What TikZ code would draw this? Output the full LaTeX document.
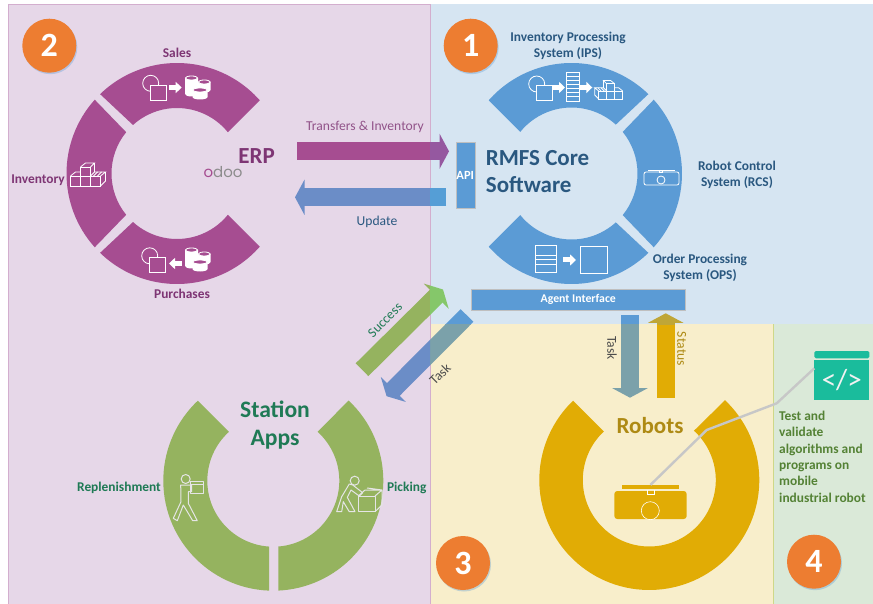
\documentclass[tikz,border=0pt]{standalone}
\usepackage{fontspec}
\setmainfont{Carlito}
\newfontfamily\odoofont{Poppins}
\usetikzlibrary{arrows.meta,positioning,shadows}
\definecolor{erpring}{HTML}{A64D91}
\definecolor{coreblue}{HTML}{5B9BD5}
\definecolor{appgreen}{HTML}{95B35F}
\definecolor{robotgold}{HTML}{E1AC05}
\definecolor{badgeorange}{HTML}{ED7D31}
\definecolor{codeteal}{HTML}{1ABC9C}
\definecolor{erptext}{HTML}{7E3574}
\definecolor{coretext}{HTML}{2A5880}
\definecolor{apptext}{HTML}{1F7A55}
\definecolor{robottext}{HTML}{AE8A14}
\definecolor{testtext}{HTML}{548235}
\definecolor{panelblue}{HTML}{D6E5F2}
\definecolor{panelyellow}{HTML}{F8EECB}
\definecolor{panelgreen}{HTML}{DAE9D8}
\definecolor{panelpink}{HTML}{E6D7E8}
\newcommand{\ringseg}[9]{\fill[#1] (#2,#3) ++(#4:#8) arc[start angle=#4,end angle=#5,radius=#8]
  -- ([shift={(#2,#3)}]#7:#9) arc[start angle=#7,end angle=#6,radius=#9] -- cycle;}
\newcommand{\tintarrow}[4]{\begin{scope}\clip (#1tl) rectangle (#1br);
  \definecolor{tint}{HTML}{#2}\draw[blockarrow,tint] (#3) -- (#4);\end{scope}}

\begin{document}
\begin{tikzpicture}[
      x=1pt,y=1pt,yscale=-1,
      lbl/.style={font=\bfseries\fontsize{13.4}{16}\selectfont,align=center,inner sep=0pt},
      plainlbl/.style={font=\fontsize{13.6}{15}\selectfont,inner sep=0pt},
      title/.style={font=\bfseries\fontsize{23.6}{27.6}\selectfont,align=center,inner sep=0pt},
      badge/.style={circle,fill=badgeorange,text=white,minimum size=54pt,inner sep=0pt,
        font=\bfseries\fontsize{34}{34}\selectfont,
        drop shadow={shadow xshift=1pt,shadow yshift=-1.5pt,fill=coreblue,opacity=.35}},
      blockarrow/.style={line width=18pt,-{Triangle[length=9.5pt,width=35pt]}},
      minarrow/.style={line width=5pt,white,-{Triangle[length=6pt,width=11pt]}},
      iconline/.style={draw=white,line width=.8pt},
      worker/.style={draw=black!10,line width=1pt,line join=round},
      bar/.style={fill=coreblue,draw=black!25,line width=.4pt,text=white,inner sep=0pt},
      flipped/.style={yscale=-1},
      pics/circsq/.style={code={
        \draw[iconline] (.7,-1.7) circle (8);
        \draw[iconline,fill=#1] (0,0) rectangle (16,15);}},
      pics/dbstack/.style={code={
        \foreach \cx/\cy/\ch/\cr in {6.5/2/16/6.5,19.3/6/8/6.3,15/14/7/7.5}{
          \fill[white] (\cx-\cr,\cy) -- (\cx-\cr,\cy+\ch) arc[start angle=180,end angle=0,x radius=\cr,y radius=2.5] -- (\cx+\cr,\cy) -- cycle;
          \draw[iconline,fill=#1] (\cx,\cy) ellipse (\cr-.4 and 2);}}},
      pics/boxes/.style={code={
        \draw[iconline] (0,0) rectangle (10,10) (10,0) rectangle (20,10) (20,0) rectangle (30,10);
        \draw[iconline] (10,0) rectangle (20,-9);
        \draw[iconline] (10,-9) -- (15,-13) -- (24,-13) -- (20,-9) (24,-13) -- (24,-4) -- (20,0);
        \draw[iconline] (0,0) -- (5,-4) -- (10,-4);
        \draw[iconline] (24,-4) -- (35,-4) -- (30,0) (35,-4) -- (35,5) -- (30,10);
        \draw[iconline] (27,-4) -- (23,0) (31,-4) -- (27,0);}}
      ]
    \useasboundingbox (0,0) rectangle (873,604);
    \fill[white] (0,0) rectangle (873,604);

    \coordinate (pinktl) at (8,4);       \coordinate (pinkbr) at (430,604);
    \coordinate (bluetl) at (430,4);     \coordinate (bluebr) at (873,324);
    \coordinate (yellowtl) at (430,324); \coordinate (yellowbr) at (773,604);
    \coordinate (greentl) at (773,324);  \coordinate (greenbr) at (873,604);
    \fill[panelblue] (bluetl) rectangle (bluebr);
    \fill[panelyellow] (yellowtl) rectangle (yellowbr);
    \fill[panelgreen] (greentl) rectangle (greenbr);
    \draw[panelgreen!70!yellow!90!black,line width=1pt] (773,324) -- (773,604);
    \filldraw[fill=panelpink,draw=erpring!30!panelpink] (pinktl) rectangle (pinkbr);

    % ERP
    \ringseg{erpring}{177}{173.5}{-134.1}{-41.5}{-132.2}{-39.1}{110.5}{65.5}
    \ringseg{erpring}{177}{173.5}{138.1}{221.9}{140.9}{219.1}{110.5}{65.5}
    \ringseg{erpring}{177}{173.5}{41.5}{134.1}{39.1}{132.2}{110.5}{65.5}
    \node[lbl,text=erptext] (sales) at (177,52.5) {Sales};
    \node[lbl,text=erptext] (inventory) at (38,180) {Inventory};
    \node[lbl,text=erptext] (purchases) at (182,294) {Purchases};
    \node[title,text=erptext,font=\bfseries\fontsize{23}{25}\selectfont] (erp) at (256.7,156) {ERP};
    \node[inner sep=0pt,font=\odoofont\fontsize{15}{15}\selectfont] (odoo) at (223,172.5)
      {\textcolor{erpring}{o}\textcolor{black!45}{doo}};
    \pic[flipped] at (150,85) {circsq=erpring};
    \draw[minarrow] (169,87.5) -- (181.7,87.5);
    \pic[flipped] at (185,76) {dbstack=erpring};
    \pic[flipped] at (149,257.5) {circsq=erpring};
    \draw[minarrow] (181.7,263.5) -- (169,263.5);
    \pic[flipped] at (185,248) {dbstack=erpring};
    \pic[flipped] at (70.5,176) {boxes};

    % RMFS core
    \ringseg{coreblue}{571.5}{173.5}{221.5}{314.1}{219.1}{312.2}{110.5}{66}
    \ringseg{coreblue}{571.5}{173.5}{-41.9}{41.9}{-39.1}{39.1}{110.5}{66}
    \ringseg{coreblue}{571.5}{173.5}{45.9}{138.5}{47.8}{140.9}{110.5}{66}
    \node[lbl,text=coretext] (ips) at (568,45.5) {Inventory Processing\\System (IPS)};
    \node[lbl,text=coretext] (rcs) at (737,174.7) {Robot Control\\System (RCS)};
    \node[lbl,text=coretext] (ops) at (700,268) {Order Processing\\System (OPS)};
    \node[title,text=coretext,align=left,anchor=west,font=\bfseries\fontsize{23}{27.6}\selectfont] (core) at (485.7,171.5) {RMFS Core\\Software};
    \node[bar,minimum width=19pt,minimum height=65.5pt,font=\bfseries\fontsize{12.5}{12.5}\selectfont] (api) at (465.2,175.3) {API};
    \node[bar,minimum width=214.7pt,minimum height=21pt,font=\bfseries\fontsize{11.8}{12}\selectfont] (agent) at (578.3,299.5) {Agent Interface};
    \pic[flipped] at (536,85.7) {circsq=coreblue};
    \draw[minarrow] (553,87.5) -- (565,87.5);
    \draw[iconline] (566.7,72) rectangle (579,101);
    \foreach \rowy in {76,80,84,88,92,96}{\draw[white,line width=.7pt] (566.7,\rowy) -- (579,\rowy);}
    \draw[minarrow] (580,87.5) -- (592.3,87.5);
    \pic[xscale=-.8,yscale=-.8] at (622.7,91) {boxes};
    \draw[iconline] (644,172) [rounded corners=2pt] rectangle (679,185);
    \draw[iconline] (648,170) -- (675,170);
    \draw[iconline] (659.5,170) rectangle (662.5,172);
    \draw[iconline] (661,180) circle (4);
    \draw[iconline] (535,245.7) rectangle (556.7,272.3);
    \foreach \rowy in {255,259.5,264}{\draw[iconline] (535,\rowy) -- (556.7,\rowy);}
    \draw[minarrow] (563.3,260) -- (576,260);
    \draw[iconline] (580,246.7) rectangle (607.3,273.3);

    % station apps
    \ringseg{appgreen}{273.3}{480.7}{92.2}{226.7}{93.7}{227.8}{110}{66}
    \ringseg{appgreen}{273.3}{480.7}{-46.8}{87.4}{-47.8}{85.7}{110}{66}
    \node[title,text=apptext] (station) at (275,425) {Station\\Apps};
    \node[lbl,text=apptext] (replenish) at (119,487.7) {Replenishment};
    \node[lbl,text=apptext] (picking) at (406.7,487.7) {Picking};
    \draw[worker] (185.7,479) circle (4.5);
    \draw[worker] (180.7,485) -- (191.7,485) -- (191.7,491.7) -- (188.3,491.7) -- (188.3,503.3)
      -- (197.3,520.7) -- (192.7,520.7) -- (183.3,505) -- (177.3,520.7) -- (173.3,518.3) -- (181,501.7) -- cycle;
    \draw[worker] (190,481.7) rectangle (203.3,493.3) (190,484.5) -- (203.3,484.5);
    \draw[worker] (354.7,480.7) circle (4.5);
    \draw[worker] (349.3,484) -- (352.7,485) -- (362.7,492.7) -- (359.3,496) -- (351,490) -- (347.3,497.3)
      -- (355,511.7) -- (349.3,511.7) -- (343.3,501.7) -- (341.7,511.7) -- (336.7,511.7) -- (341.7,496.7) -- cycle;
    \draw[worker] (358.3,496) rectangle (375,511.7);
    \draw[worker] (375,496) -- (382,490) -- (382,505) -- (375,511.7) (358.3,496) -- (365,490) -- (382,490) (367,488) -- (382,490);

    % robots
    \ringseg{robotgold}{649.3}{480}{-46.5}{226.1}{-47.8}{226.8}{110}{66.5}
    \node[title,text=robottext,font=\bfseries\fontsize{23}{25}\selectfont] (robots) at (650,425.7) {Robots};
    \node[fill=robotgold,minimum width=57.6pt,minimum height=4.3pt,inner sep=0pt] (robotbar) at (650.5,487.2) {};
    \fill[robotgold,rounded corners=3pt] (614.3,491) rectangle (686.7,519);
    \draw[white,line width=.6pt] (647.3,490) -- (647.3,494.3) -- (654,494.3) -- (654,490);
    \begin{scope}
      \clip (614.3,491) rectangle (686.7,519);
      \draw[white,line width=.6pt] (650.3,510.7) circle (9);
    \end{scope}

    % test panel
    \fill[codeteal,rounded corners=1.5pt] (814.3,358.3) -- (814.3,351) -- (869.3,351) -- (869.3,358.3) -- cycle;
    \node[fill=codeteal,text=black!5,minimum width=55pt,minimum height=40pt,inner sep=0pt,
      font=\fontsize{29}{29}\selectfont] (codeicon) at (841.8,380) {</>};
    \node[lbl,text=testtext,align=left,anchor=north west,font=\bfseries\fontsize{13.4}{16.3}\selectfont] (testnote) at (779,411)
      {Test and\\validate\\algorithms and\\programs on\\mobile\\industrial robot};

    % arrows
    \coordinate (erpout) at (297,151.3);
    \coordinate (apiin) at (449,151.3);
    \coordinate (apiout) at (446,197.3);
    \coordinate (erpin) at (295,197.3);
    \coordinate (appout) at (362,369.7);
    \coordinate (agentin) at (443,289.5);
    \coordinate (agentout) at (467,315.5);
    \coordinate (appin) at (386.6,396.2);
    \coordinate (taskfrom) at (630,315);
    \coordinate (taskto) at (630,397.7);
    \coordinate (statusfrom) at (665.7,397.7);
    \coordinate (statusto) at (665.7,313.3);
    \tintarrow{pink}{A64D91}{erpout}{apiin}
    \tintarrow{blue}{9558A0}{erpout}{apiin}
    \tintarrow{pink}{6B8DC7}{apiout}{erpin}
    \tintarrow{blue}{559ED6}{apiout}{erpin}
    \tintarrow{pink}{95B35F}{appout}{agentin}
    \tintarrow{blue}{85C76A}{appout}{agentin}
    \tintarrow{blue}{5B9BD5}{agentout}{appin}
    \tintarrow{yellow}{7BA1AA}{agentout}{appin}
    \tintarrow{pink}{6B8DC7}{agentout}{appin}
    \tintarrow{blue}{5B9BD5}{taskfrom}{taskto}
    \tintarrow{yellow}{7BA1AA}{taskfrom}{taskto}
    \tintarrow{yellow}{E1AC05}{statusfrom}{statusto}
    \tintarrow{blue}{BFA637}{statusfrom}{statusto}
    \node[plainlbl,text=erptext!85] (transfers) at (365,126.7) {Transfers \& Inventory};
    \node[plainlbl,text=coretext] (update) at (377,221.7) {Update};
    \node[plainlbl,text=apptext,rotate=45] (success) at (385,320) {Success};
    \node[plainlbl,text=black!70,rotate=45] (taskdiag) at (440,374) {Task};
    \node[plainlbl,text=black!70,rotate=-90] (taskdown) at (612,348) {Task};
    \node[plainlbl,text=robottext,rotate=-90] (statuslbl) at (681.7,349) {Status};

    \coordinate (codeout) at (814.3,368.3);
    \coordinate (bendright) at (776.7,403.3);
    \coordinate (bendleft) at (706.7,430);
    \draw[line width=2.4pt,black!22!white,line join=round] (codeout) -- (bendright) -- (bendleft) -- (robotbar.north);

    \node[badge] (badgetwo) at (49.3,45.7) {2};
    \node[badge] (badgeone) at (470.7,45.7) {1};
    \node[badge] (badgethree) at (463,563) {3};
    \node[badge] (badgefour) at (814,561.7) {4};
  \end{tikzpicture}
\end{document}
